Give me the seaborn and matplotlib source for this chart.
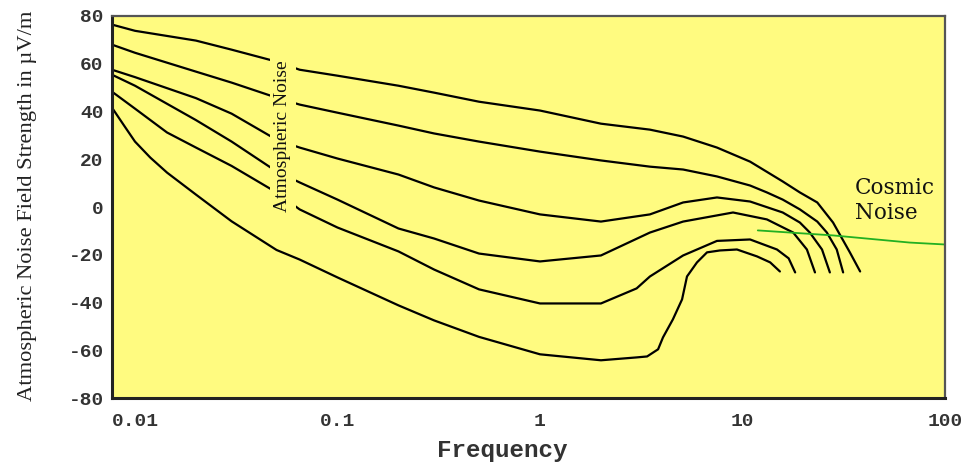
import numpy as np
import pandas as pd
import matplotlib
matplotlib.use("Agg")
import matplotlib.pyplot as plt
import seaborn as sns

# frequency (log axis) and field strength values
freq_1 = [0.0077, 0.01, 0.02, 0.03, 0.05, 0.065, 0.1, 0.2, 0.3, 0.5, 1, 2, 3.49, 5.09, 7.48,
          10.9, 15.8, 19.2, 23.4, 28.0, 33.9, 38.1]
level_1 = [76.4, 73.8, 69.7, 65.9, 60.9, 57.5, 55.0, 50.8, 47.9, 44.1, 40.4, 34.9, 32.4, 29.5, 24.9,
           19.0, 10.7, 6.1, 1.9, -6.5, -19.0, -27.0]

freq_2 = [0.0077, 0.01, 0.02, 0.03, 0.05, 0.065, 0.1, 0.2, 0.3, 0.5, 1, 2, 3.49, 5.09, 7.48,
          10.9, 13.2, 15.8, 19.2, 23.4, 26.1, 29.2, 31.4]
level_2 = [68.0, 64.6, 56.7, 52.1, 45.8, 42.9, 39.5, 34.1, 30.8, 27.4, 23.2, 19.5, 16.9, 15.7, 12.8,
           9.0, 6.1, 3.1, -1.0, -6.1, -10.7, -17.8, -27.4]

freq_3 = [0.0077, 0.01, 0.02, 0.03, 0.05, 0.065, 0.1, 0.2, 0.3, 0.5, 1, 2, 3.49, 5.09, 7.48,
          10.9, 15.8, 19.2, 21.5, 24.7, 27.0]
level_3 = [57.5, 54.4, 45.6, 39.1, 28.2, 24.9, 20.3, 13.6, 8.2, 2.7, -3.1, -6.1, -3.1, 1.9, 4.0,
           2.3, -2.3, -6.5, -10.7, -17.8, -27.4]

freq_4 = [0.0077, 0.01, 0.02, 0.03, 0.05, 0.065, 0.1, 0.2, 0.3, 0.5, 1, 2, 3.49, 5.09, 8.98,
          13.2, 17.8, 20.8, 22.8]
level_4 = [55.4, 50.8, 36.4, 27.4, 14.9, 10.3, 3.1, -9.0, -13.2, -19.5, -22.8, -20.3, -10.7, -6.1, -2.3,
           -5.2, -10.7, -17.8, -27.4]

freq_5 = [0.0077, 0.01, 0.0144, 0.02, 0.03, 0.05, 0.065, 0.1, 0.2, 0.3, 0.5, 1, 2, 3.0, 3.49, 5.09,
          7.48, 10.9, 14.8, 16.9, 18.2]
level_5 = [48.3, 41.2, 31.2, 24.9, 17.2, 6.1, -1.0, -8.6, -18.6, -26.2, -34.5, -40.4, -40.4, -34.1, -29.1, -20.3,
           -14.2, -13.6, -17.8, -21.5, -27.4]

freq_6 = [0.0077, 0.0089, 0.01, 0.0119, 0.0144, 0.02, 0.03, 0.05, 0.065, 0.1, 0.2, 0.3, 0.5, 1, 2, 3,
          3.38, 3.83, 4.05, 4.53, 5.03, 5.32, 5.96, 6.68, 7.74, 9.39, 11.8, 13.7, 15.3]
level_6 = [41.6, 33.7, 27.4, 20.7, 14.4, 5.2, -6.0, -18.0, -22.0, -29.5, -41.2, -47.5, -54.4, -61.7, -64.2, -63.0,
           -62.6, -59.6, -54.6, -47.1, -38.7, -29.1, -23.2, -19.0, -18.2, -17.8, -20.7, -23.2, -27.0]

cosmic_freq = [11.9, 28, 67, 100]
cosmic_level = [-9.8, -11.9, -14.9, -15.7]

x_ticks = [0.01, 0.1, 1, 10, 100]
x_tick_labels = ["0.01", "0.1", "1", "10", "100"]
y_ticks = [-80, -60, -40, -20, 0, 20, 40, 60, 80]

curves = [(freq_1, level_1), (freq_2, level_2), (freq_3, level_3),
          (freq_4, level_4), (freq_5, level_5), (freq_6, level_6)]
frames = []
for i, (f, lv) in enumerate(curves):
    frames.append(pd.DataFrame({"freq": f, "level": lv, "curve": i}))
df = pd.concat(frames, ignore_index=True)
cosmic = pd.DataFrame({"freq": cosmic_freq, "level": cosmic_level})

sns.set_style("white")
W, H = 975, 465
fig = plt.figure(figsize=(W / 100, H / 100), dpi=100)
ax = fig.add_axes([112 / W, 1 - 398 / H, (945 - 112) / W, (398 - 16) / H])
ax.set_facecolor("#FFFB80")

sns.lineplot(data=df, x="freq", y="level", units="curve", estimator=None,
             color="black", linewidth=1.6, sort=False, ax=ax, legend=False)
sns.lineplot(data=cosmic, x="freq", y="level", color="#22B022",
             linewidth=1.3, sort=False, ax=ax, legend=False)

ax.set_xscale("log")
ax.set_xlim(0.0077, 100)
ax.set_ylim(-80, 80)
ax.set_xticks(x_ticks)
ax.set_xticklabels(x_tick_labels)
ax.minorticks_off()
ax.set_yticks(y_ticks)
ax.set_yticklabels([str(v) for v in y_ticks])
ax.tick_params(length=0, labelsize=14)
ax.tick_params(axis="y", pad=6)
ax.tick_params(axis="x", pad=11)
for lab in ax.get_xticklabels() + ax.get_yticklabels():
    lab.set_fontfamily("Liberation Mono")
    lab.set_fontweight("bold")
    lab.set_color("#333333")
ax.set_xlabel("")
ax.set_ylabel("")

for side in ["left", "bottom"]:
    ax.spines[side].set_color("#222222")
    ax.spines[side].set_linewidth(2.2)
for side in ["top", "right"]:
    ax.spines[side].set_color("#555555")
    ax.spines[side].set_linewidth(1.6)

ax.text(0.0538, 29.5, "Atmospheric Noise", rotation=90, ha="center", va="center",
        fontsize=14, family="Liberation Serif", color="#111111",
        bbox=dict(facecolor="#FFFB80", edgecolor="none", pad=3))
ax.text(35.9, -5.2, "Cosmic\nNoise", ha="left", va="baseline", fontsize=15.5,
        family="DejaVu Serif", color="#111111", linespacing=1.2)

fig.text(28 / W, 1 - 206 / H, "Atmospheric Noise Field Strength in \u00b5V/m",
         rotation=90, ha="center", va="center", fontsize=16.2,
         family="Liberation Serif", color="#222222")
fig.text(502 / W, 1 - 450 / H, "Frequency", ha="center", va="center",
         fontsize=17.5, family="Liberation Mono", fontweight="bold", color="#333333")

fig.savefig("out.png", dpi=100)
